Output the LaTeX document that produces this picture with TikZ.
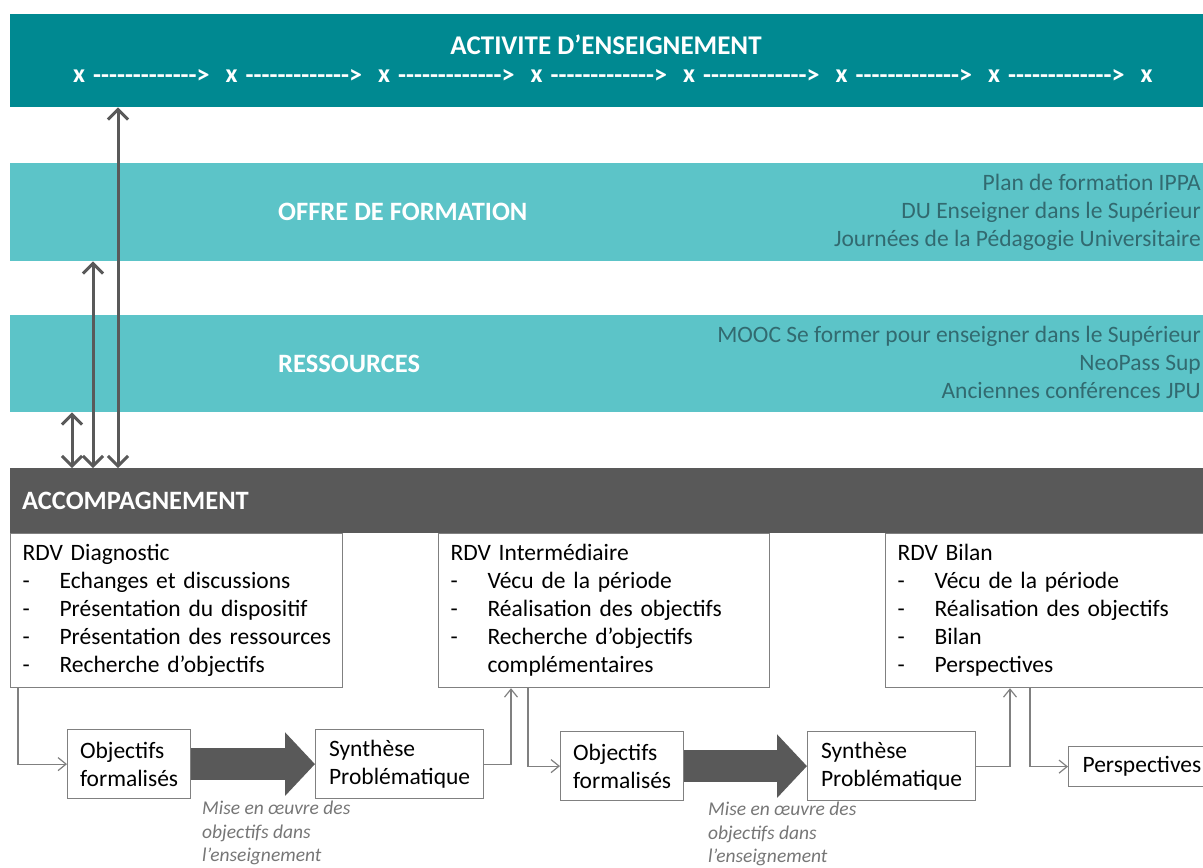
\documentclass[tikz,border=0pt]{standalone}
\usepackage{fontspec}
\setmainfont{Carlito}
\usetikzlibrary{arrows.meta}

\definecolor{tealdark}{RGB}{0,137,145}
\definecolor{teallight}{RGB}{92,196,200}
\definecolor{tealtext}{RGB}{50,106,112}
\definecolor{accgray}{RGB}{89,89,89}
\definecolor{linegray}{RGB}{128,128,128}
\definecolor{misegray}{RGB}{118,118,118}

\newcommand{\boxfont}{\fontsize{23.5}{28}\selectfont}
\newcommand{\itm}[1]{\mbox{\makebox[37pt][l]{-}#1}}
\newcommand{\hy}{-\kern0pt}
\newcommand{\hyrun}{\hy\hy\hy\hy\hy\hy\hy\hy\hy\hy\hy\hy\hy>}

\begin{document}
\begin{tikzpicture}[x=1pt,y=-1pt]
  \tikzstyle{band}=[anchor=north west,inner sep=0pt,minimum width=1193pt]
  \tikzstyle{bandlabel}=[anchor=west,inner sep=0pt,text=white,font=\fontsize{26.5}{30}\selectfont\bfseries]
  \tikzstyle{bandlist}=[anchor=east,inner sep=0pt,align=right,text=tealtext,font=\boxfont]
  \tikzstyle{xmark}=[anchor=west,inner sep=0pt,text=white,font=\fontsize{26}{30}\selectfont\bfseries]
  \tikzstyle{rdv}=[draw=linegray,line width=1.2pt,anchor=north west,inner xsep=12pt,inner ysep=0pt,
    align=left,font=\boxfont,text height=27pt,text depth=127pt]
  \tikzstyle{stepbox}=[draw=linegray,line width=1.2pt,anchor=north west,align=left,font=\boxfont,
    minimum height=69pt]
  \tikzstyle{mise}=[anchor=north west,inner sep=0pt,align=left,text=misegray,
    font=\fontsize{19.5}{23.5}\selectfont\itshape]
  \tikzstyle{link}=[draw=linegray,line width=1.2pt,-{Straight Barb[length=8pt,width=13pt]}]
  \tikzstyle{vlink}=[draw=accgray,line width=3pt,
    {Straight Barb[length=10pt,width=20pt]}-{Straight Barb[length=10pt,width=20pt]}]
  \tikzstyle{bigarrow}=[draw=accgray,line width=32pt,-{Triangle[length=30pt,width=62pt]}]

    \useasboundingbox (0,0) rectangle (1203,868);
    \clip (0,0) rectangle (1203,868);

    \node[band,fill=tealdark,minimum height=93pt] (activite) at (10,14) {};
    \node[band,fill=teallight,minimum height=98pt] (offre) at (10,163) {};
    \node[band,fill=teallight,minimum height=97pt] (ressources) at (10,315) {};
    \node[band,fill=accgray,minimum height=65pt] (accomp) at (10,468) {};

    \node[text=white,font=\fontsize{27}{30}\selectfont\bfseries] (titre) at (606,45)
    {ACTIVITE D’ENSEIGNEMENT};
    \foreach \i in {0,...,7}
      \node[xmark] (x\i) at (73+152.5*\i,76) {x};
    \foreach \i in {0,...,6}
      \node[xmark] (r\i) at (93+152.5*\i,76) {\hyrun};

    \node[bandlabel] (offrelbl) at (278,212) {OFFRE DE FORMATION};
    \node[bandlist] (offrelist) at (1201,212)
    {Plan de formation IPPA\\DU Enseigner dans le Supérieur\\Journées de la Pédagogie Universitaire};
    \node[bandlabel] (resslbl) at (278,364) {RESSOURCES};
    \node[bandlist] (resslist) at (1201,362)
    {MOOC Se former pour enseigner dans le Supérieur\\NeoPass Sup\\Anciennes conférences JPU};
    \node[bandlabel] (acclbl) at (22,501) {ACCOMPAGNEMENT};

    \coordinate (v1) at (72,0);
    \coordinate (v2) at (93,0);
    \coordinate (v3) at (118,0);
    \draw[vlink] (ressources.south -| v1) -- (accomp.north -| v1);
    \draw[vlink] (offre.south -| v2) -- (accomp.north -| v2);
    \draw[vlink] (activite.south -| v3) -- (accomp.north -| v3);

    \node[rdv,text width=308pt] (diag) at (10,533)
    {RDV Diagnostic\\\itm{Echanges et discussions}\\\itm{Présentation du dispositif}\\
     \itm{Présentation des ressources}\\\itm{Recherche d’objectifs}};
    \node[rdv,text width=307pt] (inter) at (438,533)
    {RDV Intermédiaire\\\itm{Vécu de la période}\\\itm{Réalisation des objectifs}\\
     \itm{Recherche d’objectifs}\\\hspace*{37pt}complémentaires};
    \node[rdv,text width=306pt] (bilan) at (885,533)
    {RDV Bilan\\\itm{Vécu de la période}\\\itm{Réalisation des objectifs}\\
     \itm{Bilan}\\\itm{Perspectives}};

    \node[stepbox,minimum width=123pt] (obj1) at (67,729) {Objectifs\\formalisés};
    \node[stepbox,minimum width=168pt] (syn1) at (315,729) {Synthèse\\Problématique};
    \node[stepbox,minimum width=123pt] (obj2) at (560,731) {Objectifs\\formalisés};
    \node[stepbox,minimum width=168pt] (syn2) at (807,731) {Synthèse\\Problématique};
    \node[stepbox,minimum height=40pt,inner xsep=14pt] (persp) at (1068,746) {Perspectives};

    \draw[bigarrow] (obj1.east) -- (syn1.west);
    \draw[bigarrow] (obj2.east) -- (syn2.west);

    \coordinate (k1) at (18,0);
    \coordinate (k2) at (511,0);
    \coordinate (k3) at (528,0);
    \coordinate (k4) at (1010,0);
    \coordinate (k5) at (1030,0);
    \draw[link] (diag.south -| k1) |- (obj1.west);
    \draw[link] (syn1.east) -| (inter.south -| k2);
    \draw[link] (inter.south -| k3) |- (obj2.west);
    \draw[link] (syn2.east) -| (bilan.south -| k4);
    \draw[link] (bilan.south -| k5) |- (persp.west);

    \node[mise] (mise1) at (202,801) {Mise en œuvre des\\objectifs dans\\l’enseignement};
    \node[mise] (mise2) at (708,802) {Mise en œuvre des\\objectifs dans\\l’enseignement};

  \end{tikzpicture}
\end{document}
